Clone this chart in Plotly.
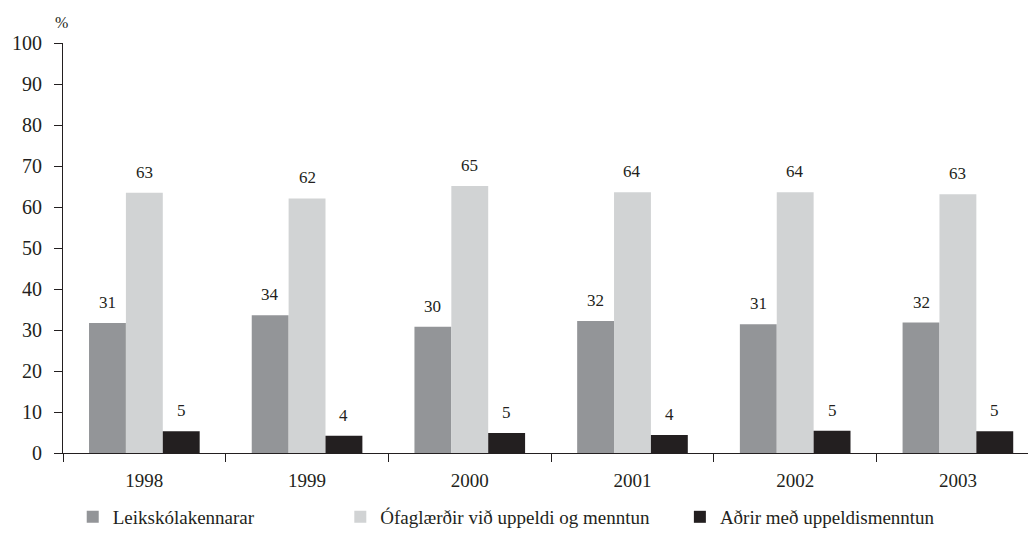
import plotly.graph_objects as go

years = ["1998", "1999", "2000", "2001", "2002", "2003"]
series_names = ["Leikskólakennarar", "Ófaglærðir við uppeldi og menntun", "Aðrir með uppeldismenntun"]
leik_values = [31.7, 33.6, 30.8, 32.2, 31.4, 31.8]
ofag_values = [63.5, 62.1, 65.1, 63.6, 63.6, 63.1]
adrir_values = [5.3, 4.2, 4.9, 4.4, 5.4, 5.3]
leik_labels = ["31", "34", "30", "32", "31", "32"]
ofag_labels = ["63", "62", "65", "64", "64", "63"]
adrir_labels = ["5", "4", "5", "4", "5", "5"]
y_ticks = [0, 10, 20, 30, 40, 50, 60, 70, 80, 90, 100]

colors = ["#939598", "#d1d3d4", "#231f20"]
ink = "#231f20"
font_family = "Liberation Serif, Times New Roman, serif"

fig = go.Figure()
all_values = [leik_values, ofag_values, adrir_values]
all_labels = [leik_labels, ofag_labels, adrir_labels]
legend_ids = ["legend", "legend2", "legend3"]
for name, vals, col, lg in zip(series_names, all_values, colors, legend_ids):
    fig.add_trace(go.Bar(x=years, y=vals, name=name, marker=dict(color=col, line=dict(width=0)),
                         legend=lg, showlegend=True))

bargap = 0.32
bar_w = (1 - bargap) / 3
offsets = [-bar_w, 0, bar_w]
for labels, vals, off in zip(all_labels, all_values, offsets):
    for i, (lab, v) in enumerate(zip(labels, vals)):
        fig.add_annotation(x=i + off, y=v, text=lab, showarrow=False, xref="x", yref="y",
                           yanchor="bottom", yshift=9,
                           font=dict(family=font_family, size=17, color=ink))

fig.add_annotation(x=0, y=1.0, xref="paper", yref="paper", text="%", showarrow=False,
                   xanchor="center", yanchor="middle", xshift=-2, yshift=21,
                   font=dict(family=font_family, size=16, color=ink))

legend_common = dict(orientation="h", yanchor="middle", y=-0.156, xanchor="left",
                     font=dict(family=font_family, size=19, color=ink),
                     bgcolor="rgba(0,0,0,0)", borderwidth=0)

fig.update_layout(
    width=1028, height=525,
    margin=dict(l=55, r=0, t=35, b=80, autoexpand=False),
    paper_bgcolor="white", plot_bgcolor="white",
    barmode="group", bargap=bargap, bargroupgap=0,
    showlegend=True,
    font=dict(family=font_family, color=ink),
    legend=dict(legend_common, x=0.01),
    legend2=dict(legend_common, x=0.285),
    legend3=dict(legend_common, x=0.634),
    xaxis=dict(type="category", range=[-0.5, 5.48], showline=True, linecolor=ink, linewidth=1,
               ticks="outside", tickson="boundaries", ticklen=8, tickcolor=ink,
               showgrid=False, automargin=False, ticklabelstandoff=10,
               tickfont=dict(family=font_family, size=19, color=ink)),
    yaxis=dict(range=[0, 100], tickvals=y_ticks, showline=True, linecolor=ink, linewidth=1,
               ticks="outside", ticklen=8, tickcolor=ink, showgrid=False, zeroline=False,
               automargin=False,
               tickfont=dict(family=font_family, size=20, color=ink), ticklabelstandoff=8),
)

fig.write_html("out.html")
